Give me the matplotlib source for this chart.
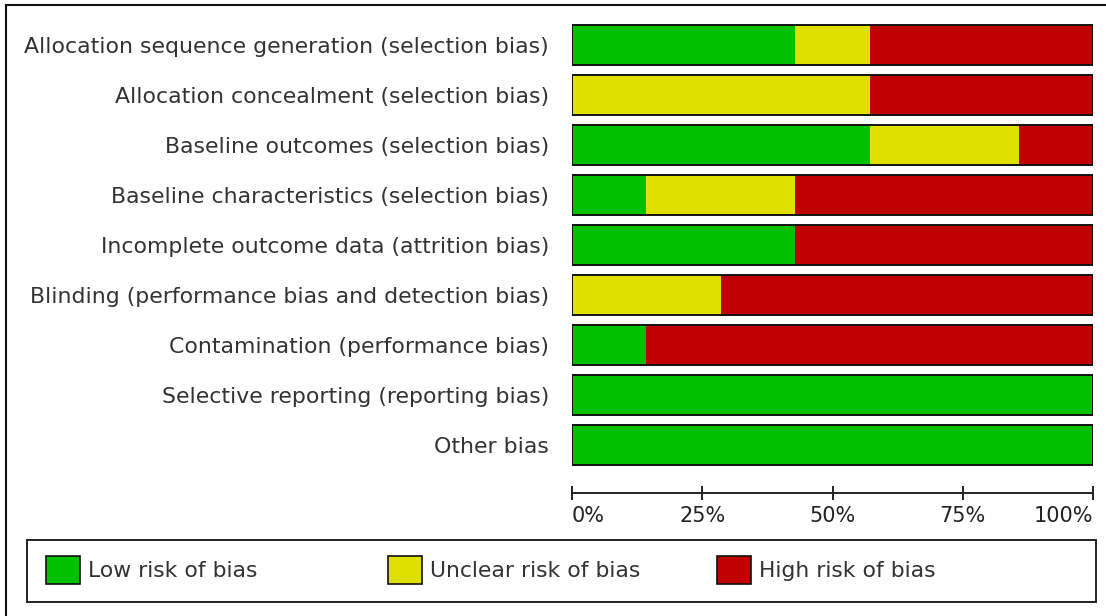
import numpy as np
import matplotlib
matplotlib.use('Agg')
import matplotlib.pyplot as plt
from matplotlib.patches import Patch, Rectangle
from matplotlib.lines import Line2D

# Risk of bias judgements, counted over 7 studies
categories = [
    "Allocation sequence generation (selection bias)",
    "Allocation concealment (selection bias)",
    "Baseline outcomes (selection bias)",
    "Baseline characteristics (selection bias)",
    "Incomplete outcome data (attrition bias)",
    "Blinding (performance bias and detection bias)",
    "Contamination (performance bias)",
    "Selective reporting (reporting bias)",
    "Other bias",
]
low_risk = np.array([3, 0, 4, 1, 3, 0, 1, 7, 7])
unclear_risk = np.array([1, 4, 2, 2, 0, 2, 0, 0, 0])
high_risk = np.array([3, 3, 1, 4, 4, 5, 6, 0, 0])
tick_values = [0, 25, 50, 75, 100]
tick_labels = ["0%", "25%", "50%", "75%", "100%"]
legend_labels = ["Low risk of bias", "Unclear risk of bias", "High risk of bias"]

GREEN = '#00c000'
YELLOW = '#e0e000'
RED = '#c00000'
TEXT = '#333333'

W, H = 1106, 616


def fx(px):
    return px / W


def fy(py):
    return 1 - py / H


total = low_risk + unclear_risk + high_risk
low_pct = low_risk / total * 100
unclear_pct = unclear_risk / total * 100
high_pct = high_risk / total * 100

plt.rcParams['font.family'] = ['DejaVu Sans']

fig = plt.figure(figsize=(W / 100, H / 100), dpi=100)
ax = fig.add_axes([fx(572), fy(470), fx(1093) - fx(572), (470 - 20) / H])

y = np.arange(len(categories))
ax.barh(y, low_pct, height=0.8, color=GREEN, edgecolor='none')
ax.barh(y, unclear_pct, left=low_pct, height=0.8, color=YELLOW, edgecolor='none')
ax.barh(y, high_pct, left=low_pct + unclear_pct, height=0.8, color=RED, edgecolor='none')
# outline around each whole bar
ax.barh(y, low_pct + unclear_pct + high_pct, height=0.8, fill=False,
        edgecolor='#111111', linewidth=1.4)

ax.set_xlim(0, 100)
ax.set_ylim(len(categories) - 0.5, -0.5)

for side in ['left', 'right', 'top']:
    ax.spines[side].set_visible(False)
ax.spines['bottom'].set_position(('outward', 23 * 0.72))
ax.spines['bottom'].set_linewidth(1.4)
ax.spines['bottom'].set_color('#222222')

ax.set_xticks(tick_values, tick_labels)
ax.tick_params(axis='x', direction='inout', length=10, width=1.4, color='#222222',
               pad=4, labelsize=15, labelcolor='#222222')
xl = ax.get_xticklabels()
xl[0].set_ha('left')
xl[-1].set_ha('right')

ax.set_yticks(y, categories)
ax.tick_params(axis='y', length=0, pad=16.5, labelsize=15.85, labelcolor=TEXT)

# legend box and entries
fig.add_artist(Rectangle((fx(27), fy(602)), fx(1096) - fx(27), (602 - 540) / H,
                         transform=fig.transFigure, fill=False,
                         edgecolor='#222222', linewidth=1.4))
for color, label, xpos in zip([GREEN, YELLOW, RED], legend_labels, [46, 388, 717]):
    fig.legend(handles=[Patch(facecolor=color, edgecolor='#111111', linewidth=1.2)],
               labels=[label], loc='center left', bbox_to_anchor=(fx(xpos), fy(570)),
               frameon=False, fontsize=15.75, handlelength=1.55, handleheight=1.55,
               handletextpad=0.37, borderpad=0, borderaxespad=0, labelcolor=TEXT)

# outer frame (left and top edges visible)
fig.add_artist(Line2D([fx(6), fx(6)], [0, fy(5)], color='#111111', linewidth=1.5))
fig.add_artist(Line2D([fx(6), 1], [fy(5), fy(5)], color='#111111', linewidth=1.5))

fig.savefig('out.png', dpi=100)
